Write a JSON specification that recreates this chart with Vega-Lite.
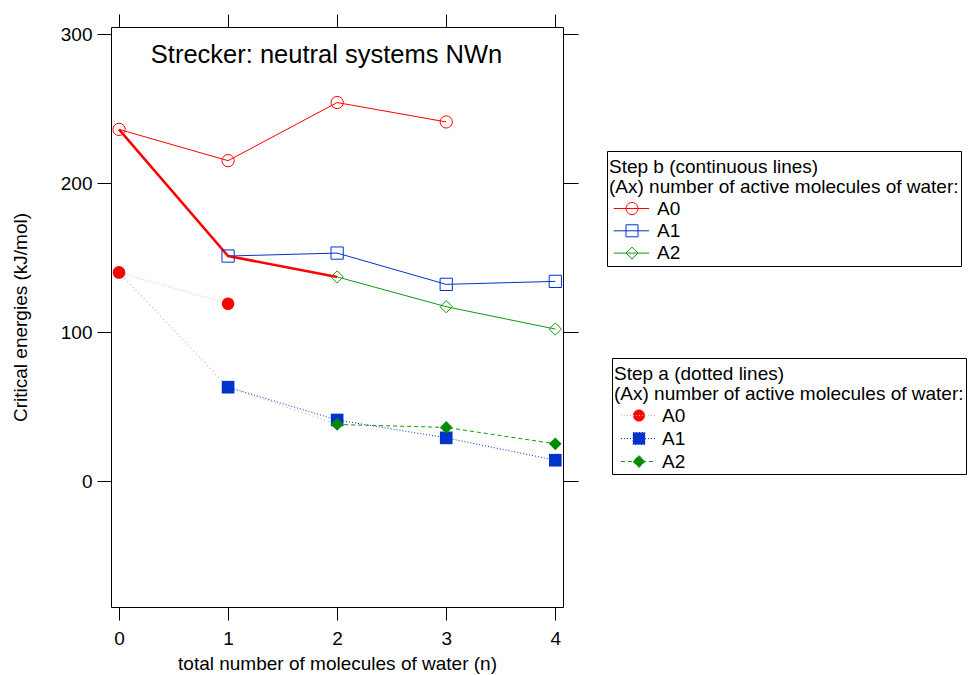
{
  "$schema": "https://vega.github.io/schema/vega-lite/v6.json",
  "width": 452,
  "height": 580,
  "autosize": "none",
  "padding": {"left": 111, "top": 27, "right": 405, "bottom": 68},
  "background": "white",
  "config": {
    "font": "Liberation Sans",
    "view": {"stroke": "black", "strokeWidth": 1},
    "axis": {"grid": false, "domain": false, "tickColor": "black", "tickWidth": 1, "labelColor": "black", "titleColor": "black", "labelFont": "Liberation Sans", "titleFont": "Liberation Sans", "labelFontSize": 19, "titleFontSize": 19, "titleFontWeight": "normal"}
  },
  "datasets": {
    "stepb": [
      {"sb": "A0", "n": 0, "E": 236}, {"sb": "A0", "n": 1, "E": 215}, {"sb": "A0", "n": 2, "E": 254}, {"sb": "A0", "n": 3, "E": 241},
      {"sb": "A1", "n": 1, "E": 151}, {"sb": "A1", "n": 2, "E": 153}, {"sb": "A1", "n": 3, "E": 132}, {"sb": "A1", "n": 4, "E": 134},
      {"sb": "A2", "n": 2, "E": 137}, {"sb": "A2", "n": 3, "E": 117}, {"sb": "A2", "n": 4, "E": 102}
    ],
    "stepa": [
      {"sa": "A0", "n": 0, "E": 140}, {"sa": "A0", "n": 1, "E": 119},
      {"sa": "A1", "n": 1, "E": 63}, {"sa": "A1", "n": 2, "E": 41}, {"sa": "A1", "n": 3, "E": 29}, {"sa": "A1", "n": 4, "E": 14},
      {"sa": "A2", "n": 2, "E": 38}, {"sa": "A2", "n": 3, "E": 36}, {"sa": "A2", "n": 4, "E": 25}
    ],
    "minb": [{"n": 0, "E": 236}, {"n": 1, "E": 151}, {"n": 2, "E": 137}],
    "mina": [{"n": 0, "E": 140}, {"n": 1, "E": 63}, {"n": 2, "E": 38}]
  },
  "encoding": {
    "x": {"field": "n", "type": "quantitative", "scale": {"domain": [-0.0734, 4.0706], "nice": false, "zero": false}, "axis": null},
    "y": {"field": "E", "type": "quantitative", "scale": {"domain": [-84.5, 304.7], "nice": false, "zero": false}, "axis": null}
  },
  "resolve": {"axis": {"x": "independent", "y": "independent"}},
  "layer": [
    {
      "data": {"name": "mina"},
      "mark": {"type": "line", "color": "#c4c4c4", "strokeDash": [1, 3], "strokeWidth": 1.5}
    },
    {
      "data": {"name": "stepa"},
      "mark": {"type": "line", "strokeWidth": 1},
      "encoding": {
        "x": {"field": "n", "type": "quantitative", "scale": {"domain": [-0.0734, 4.0706], "nice": false, "zero": false},
              "axis": {"orient": "top", "values": [0, 1, 2, 3, 4], "labels": false, "tickSize": 13,
                       "title": "Strecker: neutral systems NWn", "titleFontSize": 25.5, "titleX": 215, "titleY": 35, "titleAlign": "center", "titleBaseline": "alphabetic", "titleAngle": 0}},
        "y": {"field": "E", "type": "quantitative", "scale": {"domain": [-84.5, 304.7], "nice": false, "zero": false},
              "axis": {"orient": "right", "values": [0, 100, 200, 300], "labels": false, "tickSize": 15, "title": null}},
        "color": {"field": "sa", "type": "nominal", "scale": {"range": ["#ffb0b0", "#0033cc", "#119911"]},
          "legend": {
            "title": ["Step a (dotted lines)", "(Ax) number of active molecules of water:"],
            "orient": "none", "legendX": 501, "legendY": 331, "direction": "vertical",
            "strokeColor": "black", "fillColor": "white", "padding": 2,
            "titleFontSize": 19, "titleFontWeight": "normal", "titleFont": "Liberation Sans", "titleColor": "black", "titleLineHeight": 20, "titlePadding": 7, "titleLimit": 600,
            "labelFontSize": 19, "labelFont": "Liberation Sans", "labelColor": "black", "labelOffset": 29, "labelLimit": 300,
            "symbolSize": 144, "symbolStrokeWidth": 1, "rowPadding": 3,
            "encode": {
              "title": {"update": {"dy": {"value": 5}}},
              "symbols": {"update": {
                "shape": {"signal": "datum.value === 'A0' ? 'M-0.42,0H5.25M1.58,0A1,1,0,1,1,3.58,0A1,1,0,1,1,1.58,0' : datum.value === 'A1' ? 'M-0.42,0H5.25M1.58,-1H3.58V1H1.58Z' : 'M-0.42,0H5.25M2.58,-1L3.58,0L2.58,1L1.58,0Z'"},
                "fill": {"signal": "datum.value === 'A0' ? '#ff0000' : datum.value === 'A1' ? '#0033cc' : '#008c00'"},
                "strokeDash": {"signal": "datum.value === 'A2' ? [3,3] : [1,2]"},
                "strokeWidth": {"value": 1}
              }}
            }
          }},
        "strokeDash": {"field": "sa", "type": "nominal", "scale": {"range": [[1, 2], [1, 2], [4, 3]]}, "legend": null}
      }
    },
    {
      "data": {"name": "stepa"},
      "mark": {"type": "point", "filled": true, "size": 160, "strokeWidth": 0, "opacity": 1},
      "encoding": {
        "fill": {"field": "sa", "type": "nominal", "scale": {"range": ["#ff0000", "#0033cc", "#008c00"]}, "legend": null},
        "shape": {"field": "sa", "type": "nominal", "scale": {"range": ["circle", "square", "diamond"]}, "legend": null}
      }
    },
    {
      "data": {"name": "stepb"},
      "mark": {"type": "line", "strokeWidth": 1},
      "encoding": {
        "x": {"field": "n", "type": "quantitative", "scale": {"domain": [-0.0734, 4.0706], "nice": false, "zero": false},
              "axis": {"orient": "bottom", "values": [0, 1, 2, 3, 4], "tickSize": 13, "labelPadding": 9, "title": "total number of molecules of water (n)", "titlePadding": 6}},
        "y": {"field": "E", "type": "quantitative", "scale": {"domain": [-84.5, 304.7], "nice": false, "zero": false},
              "axis": {"orient": "left", "values": [0, 100, 200, 300], "tickSize": 14, "labelPadding": 5, "title": "Critical energies (kJ/mol)", "titlePadding": 30}},
        "stroke": {"field": "sb", "type": "nominal", "scale": {"range": ["#ff0000", "#0033cc", "#119911"]},
          "legend": {
            "title": ["Step b (continuous lines)", "(Ax) number of active molecules of water:"],
            "orient": "none", "legendX": 496, "legendY": 124, "direction": "vertical",
            "strokeColor": "black", "fillColor": "white", "padding": 2,
            "titleFontSize": 19, "titleFontWeight": "normal", "titleFont": "Liberation Sans", "titleColor": "black", "titleLineHeight": 20, "titlePadding": 7, "titleLimit": 600,
            "labelFontSize": 19, "labelFont": "Liberation Sans", "labelColor": "black", "labelOffset": 29, "labelLimit": 300,
            "symbolSize": 144, "symbolStrokeWidth": 1, "rowPadding": 2.3,
            "encode": {
              "title": {"update": {"dy": {"value": 5}}},
              "symbols": {"update": {
                "shape": {"signal": "datum.value === 'A0' ? 'M-0.8,0H5.1M1.25,0A1,1,0,1,1,3.25,0A1,1,0,1,1,1.25,0' : datum.value === 'A1' ? 'M-0.8,0H5.1M1.25,-1H3.25V1H1.25Z' : 'M-0.8,0H5.1M2.25,-1L3.25,0L2.25,1L1.25,0Z'"},
                "fill": {"value": "transparent"},
                "strokeWidth": {"value": 1}
              }}
            }
          }}
      }
    },
    {
      "data": {"name": "minb"},
      "mark": {"type": "line", "color": "#ff0000", "strokeWidth": 2.5}
    },
    {
      "data": {"name": "stepb"},
      "mark": {"type": "point", "filled": false, "size": 150, "strokeWidth": 1, "opacity": 1},
      "encoding": {
        "stroke": {"field": "sb", "type": "nominal", "legend": null},
        "shape": {"field": "sb", "type": "nominal", "legend": null}
      }
    }
  ]
}
